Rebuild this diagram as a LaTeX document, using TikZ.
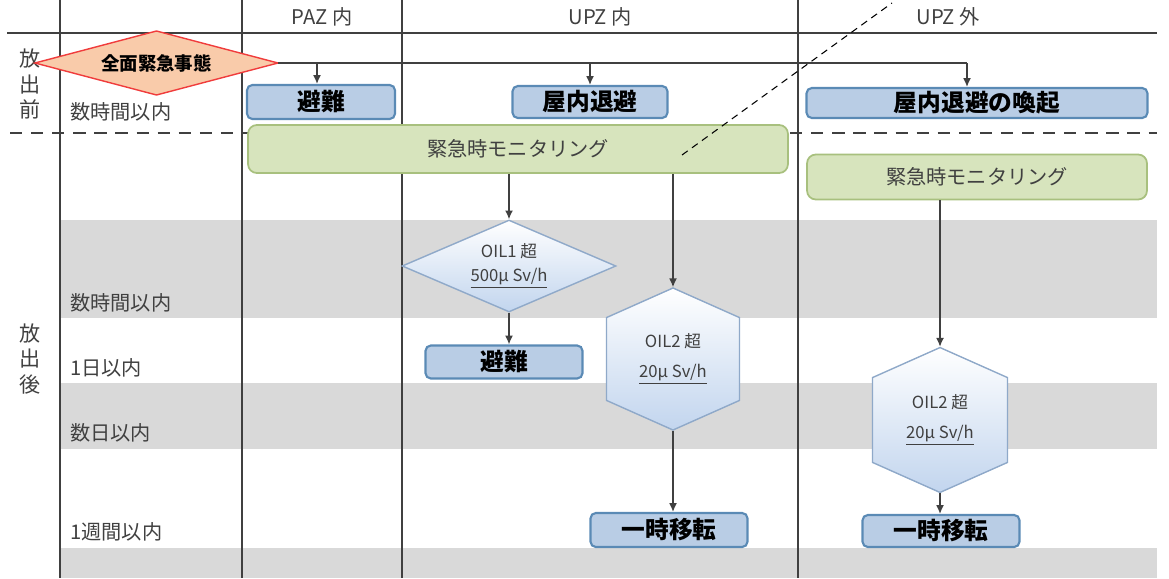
\documentclass[tikz,border=0pt]{standalone}
\usepackage{fontspec}
\setmainfont{Noto Sans CJK JP}
\usepackage{tikz}
\usetikzlibrary{shapes.geometric,shapes.symbols,arrows.meta}
\definecolor{bandgray}{HTML}{D9D9D9}
\definecolor{evacfill}{HTML}{B9CDE5}
\definecolor{evacline}{HTML}{5A8AB5}
\definecolor{monfill}{HTML}{D7E4BD}
\definecolor{monline}{HTML}{A8C07E}
\definecolor{alarmfill}{HTML}{F9CBAA}
\definecolor{alarmline}{HTML}{F03C3C}
\definecolor{oilfill}{HTML}{C2D5EE}
\definecolor{oilline}{HTML}{8FA9C9}
\definecolor{gridline}{HTML}{404040}
\definecolor{labeltext}{HTML}{404040}
\tikzstyle{grid} = [draw=gridline, line width=0.8pt]
\tikzstyle{phaseline} = [draw=gridline, line width=1.3pt, dash pattern=on 7pt off 5pt]
\tikzstyle{flow} = [draw=gridline, line width=0.8pt, -{Latex[length=5pt,width=4.5pt]}]
\tikzstyle{zonehead} = [text=labeltext, font={\fontsize{11.5}{14}\selectfont}]
\tikzstyle{phase} = [text=labeltext, align=center, font={\fontsize{12}{14.7}\selectfont}]
\tikzstyle{rowlabel} = [text=labeltext, anchor=west, inner sep=0pt, font={\fontsize{11.5}{14}\selectfont}]
\tikzstyle{evac} = [draw=evacline, line width=1.2pt, fill=evacfill, rounded corners=3pt, inner sep=0pt, font={\fontsize{13.5}{16}\selectfont\bfseries}]
\tikzstyle{monit} = [draw=monline, line width=1pt, fill=monfill, rounded corners=5pt, inner sep=0pt, text=labeltext, font={\fontsize{11.5}{14}\selectfont}]
\tikzstyle{alarmshape} = [draw=alarmline, line width=0.8pt, fill=alarmfill, line join=miter]
\tikzstyle{alarm} = [inner sep=0pt, minimum width=4.86cm, minimum height=1.28cm, font={\fontsize{10.5}{12}\selectfont\bfseries}]
\tikzstyle{oilcheck} = [diamond, aspect=2.3, draw=oilline, line width=0.8pt, top color=white, bottom color=oilfill, inner sep=0pt, minimum width=4.28cm, minimum height=1.84cm, align=center, text=labeltext, font={\fontsize{9.5}{14}\selectfont}]
\tikzstyle{oilhex} = [signal, signal to=north and south, signal pointer angle=132, draw=oilline, line width=0.8pt, top color=white, bottom color=oilfill, inner sep=0pt, align=center, text=labeltext, font={\fontsize{9.5}{17}\selectfont}]

\begin{document}
\begin{tikzpicture}[x=0.02cm,y=-0.02cm]
    \useasboundingbox (0,0) rectangle (1169,578);
    \fill[bandgray] (60,220) rectangle (1157,318);
    \fill[bandgray] (60,383) rectangle (1157,449);
    \fill[bandgray] (60,548) rectangle (1157,578);
    \draw[grid] (7,33) -- (1157,33);
    \foreach \x in {60,242,402,798} \draw[grid] (\x,0) -- (\x,578);
    \draw[phaseline] (10,133) -- (1157,133);

    \node[zonehead](hpaz) at (322,17){PAZ 内};
    \node[zonehead](hupzin) at (600,17){UPZ 内};
    \node[zonehead](hupzout) at (948,17){UPZ 外};
    \node[phase](pre) at (30,84){放\\出\\前};
    \node[phase](post) at (30,359){放\\出\\後};
    \node[rowlabel](r0) at (70,112){数時間以内};
    \node[rowlabel](r1) at (70,303){数時間以内};
    \node[rowlabel](r2) at (70,368){1日以内};
    \node[rowlabel](r3) at (70,433){数日以内};
    \node[rowlabel](r4) at (70,532){1週間以内};

    \filldraw[alarmshape] (35,63) -- (156.5,31) -- (278,63) -- (156.5,95) -- cycle;
    \node[alarm](alarm) at (156.5,63){全面緊急事態};
    \node[evac, minimum width=2.96cm, minimum height=0.68cm](evpaz) at (321,102){避難};
    \node[evac, minimum width=3.1cm, minimum height=0.64cm](shelter) at (590,102){屋内退避};
    \node[evac, minimum width=6.82cm, minimum height=0.6cm](shelterw) at (977,103){屋内退避の喚起};
    \node[monit, minimum width=10.8cm, minimum height=0.96cm](mon1) at (518,149){緊急時モニタリング};
    \node[monit, minimum width=6.8cm, minimum height=0.9cm](mon2) at (977,177){緊急時モニタリング};
    \node[oilcheck](oil1) at (509,266){OIL1 超\\\underline{500μ Sv/h}};
    \node[evac, minimum width=3.14cm, minimum height=0.66cm](evupz) at (504,362){避難};
    \node[oilhex, minimum width=2.66cm, minimum height=2.26cm](oil2in) at (673,359){OIL2 超\\\underline{20μ Sv/h}};
    \node[evac, minimum width=3.14cm, minimum height=0.68cm](movein) at (669,530){一時移転};
    \node[oilhex, minimum width=2.7cm, minimum height=2.3cm](oil2out) at (940,420){OIL2 超\\\underline{20μ Sv/h}};
    \node[evac, minimum width=3.14cm, minimum height=0.64cm](moveout) at (941,531){一時移転};

    \coordinate (j1) at (317,63);
    \coordinate (j2) at (590,63);
    \coordinate (j3) at (967,63);
    \draw[grid] (alarm.east) -- (j3);
    \draw[flow] (j1) -- (j1 |- evpaz.north);
    \draw[flow] (j2) -- (j2 |- shelter.north);
    \draw[flow] (j3) -- (j3 |- shelterw.north);
    \draw[flow] (oil1.north |- mon1.south) -- (oil1.north);
    \draw[flow] (oil2in.north |- mon1.south) -- (oil2in.north);
    \draw[flow] (oil1.south) -- (oil1.south |- evupz.north);
    \draw[flow] (oil2in.south) -- (oil2in.south |- movein.north);
    \draw[flow] (oil2out.north |- mon2.south) -- (oil2out.north);
    \draw[flow] (oil2out.south) -- (oil2out.south |- moveout.north);
    \draw[black, line width=0.6pt, dash pattern=on 4pt off 3pt] (682,155) -- (892,3);
  \end{tikzpicture}
\end{document}
